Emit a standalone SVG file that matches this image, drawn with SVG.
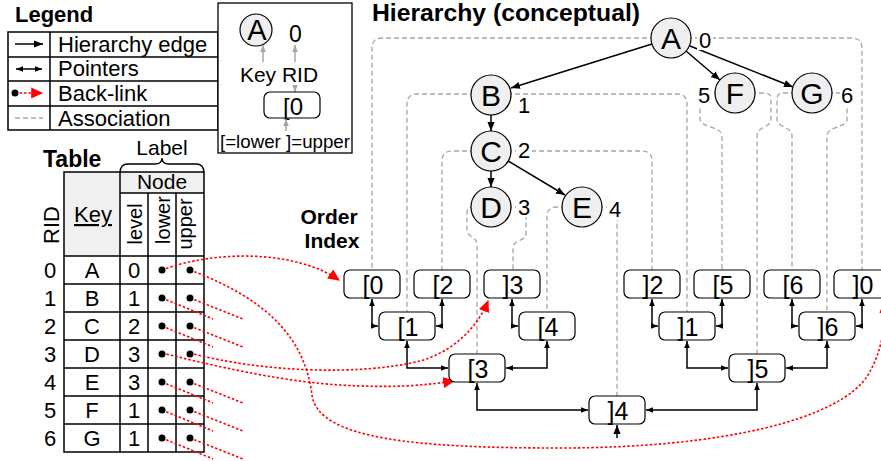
<svg xmlns="http://www.w3.org/2000/svg" width="881" height="461" viewBox="0 0 881 461">
  <defs>
    <style>
      text { font-family: "Liberation Sans", Arial, sans-serif; fill: #000; }
      .b { font-weight: bold; }
      .hn circle { fill: #efefef; stroke: #000; stroke-width: 1.2; }
      .hn .k { font-size: 30px; text-anchor: middle; }
      .lbl { font-size: 22px; }
      .wb { fill: #fff; }
      .ix rect { fill: #fff; stroke: #000; stroke-width: 1.2; }
      .ix text { font-size: 25px; text-anchor: middle; }
      .assoc { fill: none; stroke: #a6a6a6; stroke-width: 1.3; stroke-dasharray: 5 3; }
      .edge { fill: none; stroke: #000; stroke-width: 1.5; marker-end: url(#ah); }
      .ptr { fill: none; stroke: #000; stroke-width: 1.5; marker-start: url(#pa); marker-end: url(#pa); }
      .back { fill: none; stroke: #f00; stroke-width: 1.6; stroke-dasharray: 2.5 2; }
      .backa { marker-end: url(#ra); }
      .grid { fill: none; stroke: #000; stroke-width: 1.5; }
      .cell { font-size: 22px; text-anchor: middle; }
      .dot { fill: #000; }
      .gray { fill: none; stroke: #a6a6a6; stroke-width: 1.5; marker-end: url(#ga); }
      .leg { font-size: 22px; }
    </style>
    <marker id="ah" viewBox="0 0 10 10" refX="10" refY="5" markerWidth="9" markerHeight="9" markerUnits="userSpaceOnUse" orient="auto">
      <path d="M0,1 L10,5 L0,9 z" fill="#000"/>
    </marker>
    <marker id="pa" viewBox="0 0 10 10" refX="10" refY="5" markerWidth="7" markerHeight="7" markerUnits="userSpaceOnUse" orient="auto-start-reverse">
      <path d="M0,1 L10,5 L0,9 z" fill="#000"/>
    </marker>
    <marker id="ra" viewBox="0 0 10 10" refX="9" refY="5" markerWidth="12" markerHeight="12" markerUnits="userSpaceOnUse" orient="auto">
      <path d="M0,0.5 L10,5 L0,9.5 z" fill="#f00"/>
    </marker>
    <marker id="ga" viewBox="0 0 10 10" refX="10" refY="5" markerWidth="7" markerHeight="7" markerUnits="userSpaceOnUse" orient="auto">
      <path d="M0,1 L10,5 L0,9 z" fill="#a6a6a6"/>
    </marker>
  </defs>

  <rect width="881" height="461" fill="#fff"/>

  <!-- Legend -->
  <g id="legend">
    <text x="15" y="22" class="b" font-size="22">Legend</text>
    <rect x="8" y="32" width="210" height="98" class="grid" stroke-width="1.3"/>
    <path d="M8,57 H218 M8,81 H218 M8,106 H218 M50,32 V130" class="grid" stroke-width="1.3"/>
    <path d="M15,44 H43" class="edge" stroke-width="1.3"/>
    <path d="M16,69 H42" class="ptr" stroke-width="1.3"/>
    <path d="M15,93 H42" class="back backa"/>
    <circle cx="15" cy="93" r="3.5" class="dot"/>
    <path d="M15,118 H43" class="assoc"/>
    <text x="58" y="52" class="leg">Hierarchy edge</text>
    <text x="58" y="76" class="leg">Pointers</text>
    <text x="58" y="101" class="leg">Back-link</text>
    <text x="58" y="126" class="leg">Association</text>
  </g>

  <!-- Key of a hierarchy node and an index entry -->
  <g id="key">
    <rect x="218" y="3" width="134" height="150" fill="#fff" stroke="#000" stroke-width="1.3"/>
    <circle cx="256" cy="30" r="16" fill="#efefef" stroke="#000" stroke-width="1.2"/>
    <text x="257" y="40" font-size="29" text-anchor="middle">A</text>
    <text x="289" y="42" font-size="23">0</text>
    <path d="M263,62 V45" class="gray"/>
    <path d="M295,62 V45" class="gray"/>
    <text x="258" y="82" font-size="21" text-anchor="middle">Key</text>
    <text x="300" y="82" font-size="21" text-anchor="middle">RID</text>
    <path d="M295,85 V92" class="gray"/>
    <rect x="264" y="92" width="56" height="26" rx="6" fill="#fff" stroke="#000" stroke-width="1.2"/>
    <text x="293" y="115" font-size="24" text-anchor="middle">[0</text>
    <path d="M286,131 V119" class="gray"/>
    <text x="220" y="148" font-size="19" textLength="130" lengthAdjust="spacingAndGlyphs">[=lower ]=upper</text>
  </g>

  <!-- Table -->
  <g id="table">
    <text x="43" y="167" class="b" font-size="23">Table</text>
    <text x="162" y="155" font-size="21" text-anchor="middle">Label</text>
    <path d="M120,173 Q120,164 128,164 H155 Q162,164 162,158 Q162,164 169,164 H196 Q204,164 204,173" fill="none" stroke="#000" stroke-width="1.3"/>
    <rect x="64" y="172" width="56" height="84" fill="#f0f0f0"/>
    <rect x="120" y="172" width="84" height="21" fill="#f0f0f0"/>
    <rect x="64" y="172" width="140" height="280" class="grid"/>
    <path d="M120,172 V452 M120,193 H204 M148,193 V452 M176,193 V452 M64,256 H204 M64,284 H204 M64,312 H204 M64,340 H204 M64,368 H204 M64,396 H204 M64,424 H204" class="grid"/>
    <text x="162" y="189" font-size="21" text-anchor="middle">Node</text>
    <text x="93" y="222" font-size="22" text-anchor="middle" text-decoration="underline">Key</text>
    <text transform="translate(59,225) rotate(-90)" font-size="22" text-anchor="middle">RID</text>
    <text transform="translate(142,224) rotate(-90)" font-size="20" text-anchor="middle">level</text>
    <text transform="translate(170,220) rotate(-90)" font-size="20" text-anchor="middle">lower</text>
    <text transform="translate(192,224) rotate(-90)" font-size="20" text-anchor="middle">upper</text>
    <g class="cell">
      <text x="50" y="278">0</text><text x="92" y="278">A</text><text x="134" y="278">0</text>
      <text x="50" y="306">1</text><text x="92" y="306">B</text><text x="134" y="306">1</text>
      <text x="50" y="334">2</text><text x="92" y="334">C</text><text x="134" y="334">2</text>
      <text x="50" y="362">3</text><text x="92" y="362">D</text><text x="134" y="362">3</text>
      <text x="50" y="390">4</text><text x="92" y="390">E</text><text x="134" y="390">3</text>
      <text x="50" y="418">5</text><text x="92" y="418">F</text><text x="134" y="418">1</text>
      <text x="50" y="446">6</text><text x="92" y="446">G</text><text x="134" y="446">1</text>
    </g>
  </g>

  <text x="329" y="224" class="b" font-size="21" text-anchor="middle">Order</text>
  <text x="332" y="248" class="b" font-size="21" text-anchor="middle">Index</text>
  <text x="372" y="21" class="b" font-size="23" textLength="268" lengthAdjust="spacingAndGlyphs">Hierarchy (conceptual)</text>

  <!-- Connectors -->
  <g id="connectors">
    <!-- associations: hierarchy node to its [lower and ]upper entries -->
    <path class="assoc" d="M671,38 H382 Q372,38 372,48 V270"/>
    <path class="assoc" d="M671,38 H852 Q862,38 862,48 V270"/>
    <path class="assoc" d="M491,94 H417 Q407,94 407,104 V312"/>
    <path class="assoc" d="M491,94 H677 Q687,94 687,104 V312"/>
    <path class="assoc" d="M491,151 H452 Q442,151 442,161 V270"/>
    <path class="assoc" d="M491,151 H642 Q652,151 652,161 V270"/>
    <path class="assoc" d="M491,207 H473 Q467,207 467,213 V229 C467,238 477,236 477,245 V354"/>
    <path class="assoc" d="M491,207 H520 Q526,207 526,213 V233 C526,242 513,239 513,248 V270"/>
    <path class="assoc" d="M582,207 H557 Q547,207 547,217 V312"/>
    <path class="assoc" d="M582,207 H607 Q617,207 617,217 V396"/>
    <path class="assoc" d="M735,93 H706 Q700,93 700,99 V119 C700,128 722,126 722,136 V270"/>
    <path class="assoc" d="M735,93 H765 Q771,93 771,99 V119 C771,128 757,126 757,136 V354"/>
    <path class="assoc" d="M812,93 H783 Q777,93 777,99 V119 C777,128 792,126 792,136 V270"/>
    <path class="assoc" d="M812,93 H841 Q847,93 847,99 V119 C847,128 827,126 827,136 V312"/>

    <!-- hierarchy edges -->
    <path class="edge" d="M652,44 L511,88"/>
    <path class="edge" d="M686,51 L720,80"/>
    <path class="edge" d="M690,46 L793,87"/>
    <path class="edge" d="M491,115 V131"/>
    <path class="edge" d="M491,171 V187"/>
    <path class="edge" d="M508,161 L565,195"/>

    <!-- order index pointers -->
    <path class="ptr" d="M372,299 V326 H378"/>
    <path class="ptr" d="M442,299 V326 H436"/>
    <path class="ptr" d="M512,299 V326 H518"/>
    <path class="ptr" d="M652,299 V326 H658"/>
    <path class="ptr" d="M722,299 V326 H716"/>
    <path class="ptr" d="M792,299 V326 H798"/>
    <path class="ptr" d="M862,299 V326 H856"/>
    <path class="ptr" d="M407,341 V368 H448"/>
    <path class="ptr" d="M547,341 V368 H506"/>
    <path class="ptr" d="M687,341 V368 H728"/>
    <path class="ptr" d="M827,341 V368 H786"/>
    <path class="ptr" d="M477,383 V410 H588"/>
    <path class="ptr" d="M757,383 V410 H646"/>
    <path class="edge" d="M617,438 V425" stroke-width="1.5"/>

    <!-- back-links from the table -->
    <path class="back backa" d="M162,270 C215,250 295,250 339,280"/>
    <path class="back backa" d="M190,270 C270,300 305,340 312,395 C318,440 420,448 560,448 C720,448 840,420 868,375 C880,355 886,330 884,302"/>
    <path class="back backa" d="M190,353 C260,372 360,376 420,361 C455,351 478,326 488,301"/>
    <path class="back backa" d="M162,353 C230,370 290,382 340,385 C390,388 420,386 454,381"/>
    <path class="back" d="M162,298 L213,319 M190,298 L243,319"/>
    <path class="back" d="M162,326 L213,347 M190,326 L243,347"/>
    <path class="back" d="M162,382 L213,403 M190,382 L243,403"/>
    <path class="back" d="M162,410 L213,431 M190,410 L243,431"/>
    <path class="back" d="M162,438 L213,459 M190,438 L243,459"/>
  </g>

  <!-- table row pointers (lower / upper) -->
  <g id="row-dots">
    <circle cx="162" cy="270" r="3.5" class="dot"/><circle cx="190" cy="270" r="3.5" class="dot"/>
    <circle cx="162" cy="298" r="3.5" class="dot"/><circle cx="190" cy="298" r="3.5" class="dot"/>
    <circle cx="162" cy="326" r="3.5" class="dot"/><circle cx="190" cy="326" r="3.5" class="dot"/>
    <circle cx="162" cy="354" r="3.5" class="dot"/><circle cx="190" cy="354" r="3.5" class="dot"/>
    <circle cx="162" cy="382" r="3.5" class="dot"/><circle cx="190" cy="382" r="3.5" class="dot"/>
    <circle cx="162" cy="410" r="3.5" class="dot"/><circle cx="190" cy="410" r="3.5" class="dot"/>
    <circle cx="162" cy="438" r="3.5" class="dot"/><circle cx="190" cy="438" r="3.5" class="dot"/>
  </g>

  <!-- Hierarchy nodes -->
  <g id="node-A" class="hn"><circle cx="671" cy="38" r="20"/><text class="k" x="671" y="49">A</text><rect class="wb" x="697" y="28" width="16" height="22"/><text class="lbl" x="699" y="48">0</text></g>
  <g id="node-B" class="hn"><circle cx="491" cy="95" r="20"/><text class="k" x="491" y="106">B</text><text class="lbl" x="518" y="113">1</text></g>
  <g id="node-C" class="hn"><circle cx="491" cy="151" r="20"/><text class="k" x="491" y="162">C</text><rect class="wb" x="516" y="140" width="16" height="21"/><text class="lbl" x="518" y="158">2</text></g>
  <g id="node-D" class="hn"><circle cx="491" cy="207" r="20"/><text class="k" x="491" y="218">D</text><rect class="wb" x="516" y="196" width="16" height="21"/><text class="lbl" x="518" y="215">3</text></g>
  <g id="node-E" class="hn"><circle cx="582" cy="207" r="20"/><text class="k" x="582" y="218">E</text><rect class="wb" x="607" y="198" width="16" height="22"/><text class="lbl" x="609" y="217">4</text></g>
  <g id="node-F" class="hn"><circle cx="735" cy="93" r="20"/><text class="k" x="735" y="104">F</text><rect class="wb" x="697" y="84" width="14" height="22"/><text class="lbl" x="698" y="103">5</text></g>
  <g id="node-G" class="hn"><circle cx="812" cy="93" r="20"/><text class="k" x="812" y="104">G</text><rect class="wb" x="840" y="84" width="14" height="22"/><text class="lbl" x="841" y="103">6</text></g>

  <!-- Order index entries -->
  <g id="ix-l0" class="ix"><rect x="344" y="270" width="56" height="28" rx="6"/><text x="373" y="294">[0</text></g>
  <g id="ix-l2" class="ix"><rect x="414" y="270" width="56" height="28" rx="6"/><text x="443" y="294">[2</text></g>
  <g id="ix-u3" class="ix"><rect x="484" y="270" width="56" height="28" rx="6"/><text x="513" y="294">]3</text></g>
  <g id="ix-u2" class="ix"><rect x="624" y="270" width="56" height="28" rx="6"/><text x="653" y="294">]2</text></g>
  <g id="ix-l5" class="ix"><rect x="694" y="270" width="56" height="28" rx="6"/><text x="723" y="294">[5</text></g>
  <g id="ix-l6" class="ix"><rect x="764" y="270" width="56" height="28" rx="6"/><text x="793" y="294">[6</text></g>
  <g id="ix-u0" class="ix"><rect x="834" y="270" width="56" height="28" rx="6"/><text x="863" y="294">]0</text></g>
  <g id="ix-l1" class="ix"><rect x="379" y="312" width="56" height="28" rx="6"/><text x="408" y="336">[1</text></g>
  <g id="ix-l4" class="ix"><rect x="519" y="312" width="56" height="28" rx="6"/><text x="548" y="336">[4</text></g>
  <g id="ix-u1" class="ix"><rect x="659" y="312" width="56" height="28" rx="6"/><text x="688" y="336">]1</text></g>
  <g id="ix-u6" class="ix"><rect x="799" y="312" width="56" height="28" rx="6"/><text x="828" y="336">]6</text></g>
  <g id="ix-l3" class="ix"><rect x="449" y="354" width="56" height="28" rx="6"/><text x="478" y="378">[3</text></g>
  <g id="ix-u5" class="ix"><rect x="729" y="354" width="56" height="28" rx="6"/><text x="758" y="378">]5</text></g>
  <g id="ix-u4" class="ix"><rect x="589" y="396" width="56" height="28" rx="6"/><text x="618" y="420">]4</text></g>
</svg>
